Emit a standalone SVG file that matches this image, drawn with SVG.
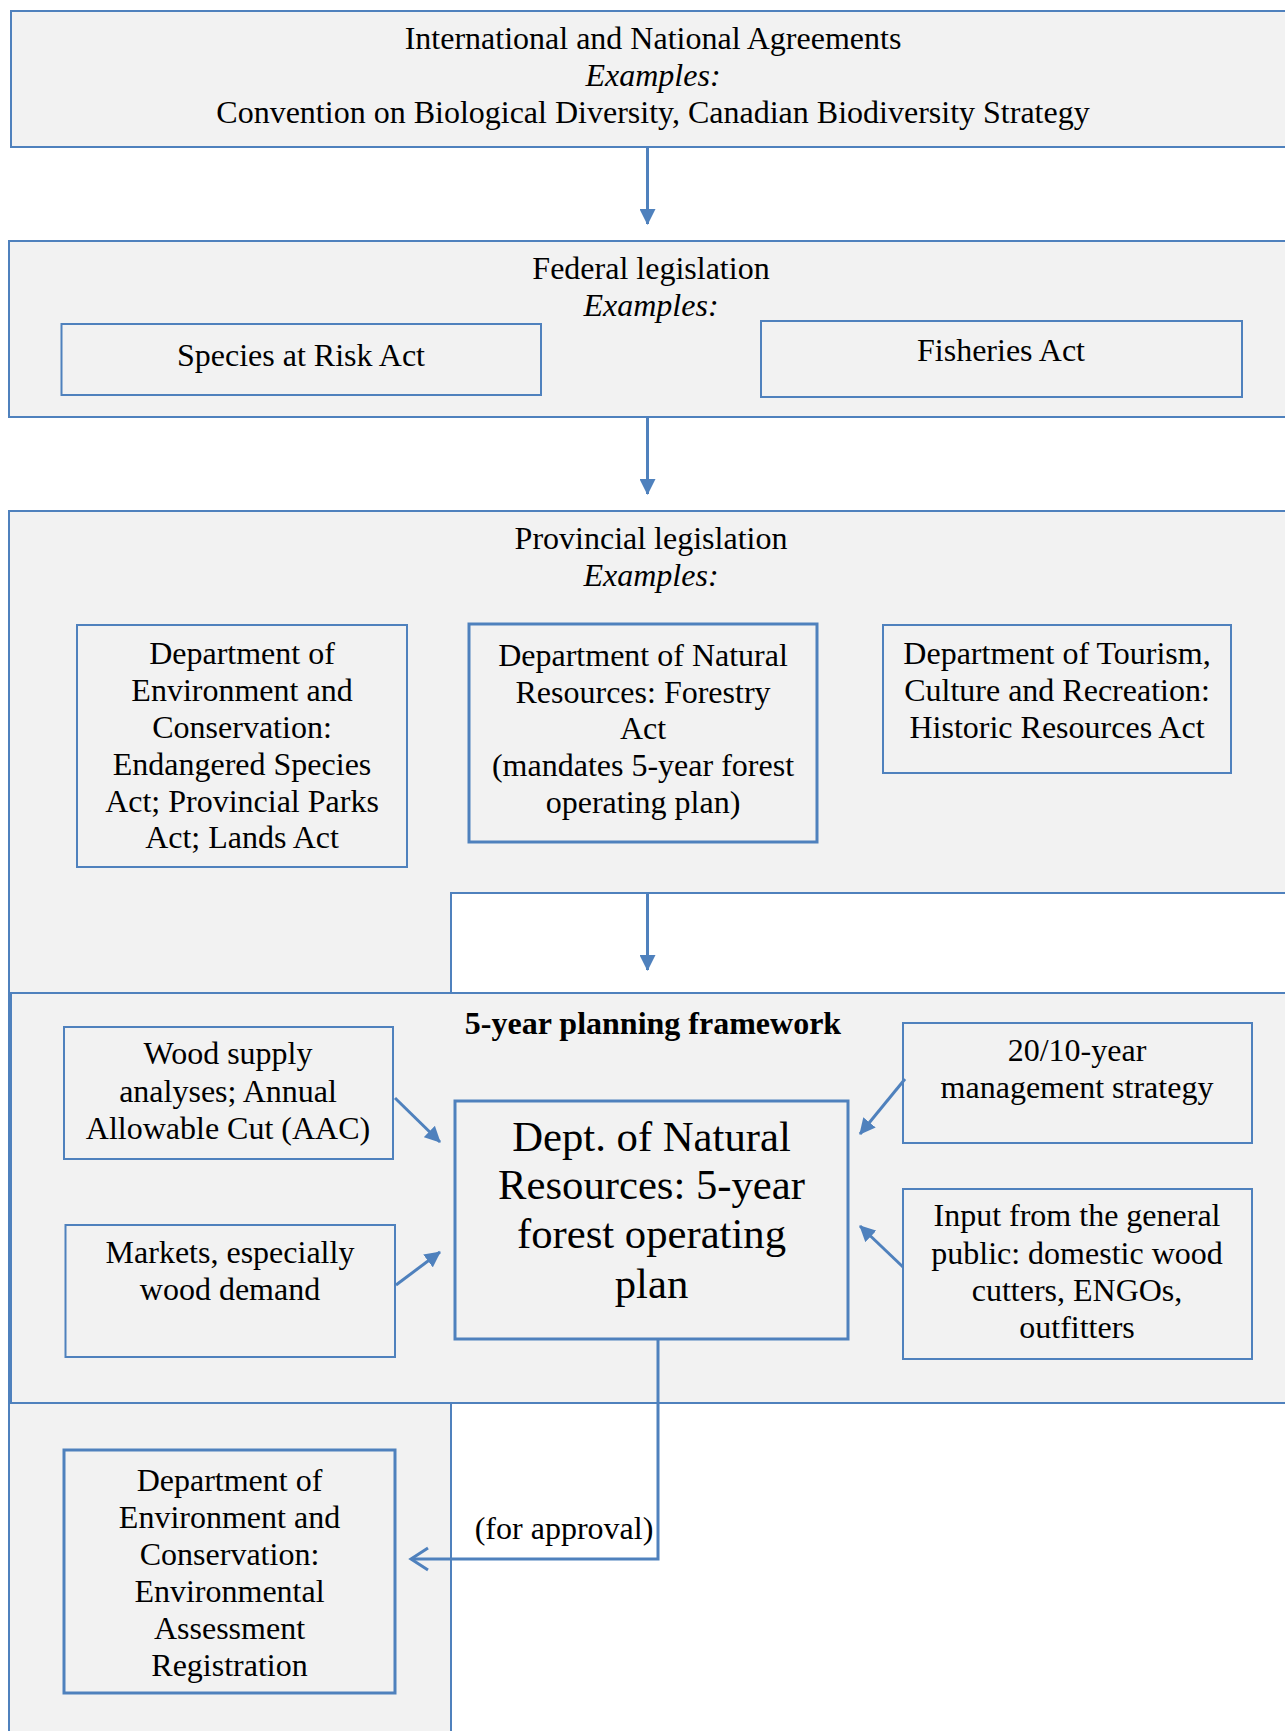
<svg xmlns="http://www.w3.org/2000/svg" width="1285" height="1731" viewBox="0 0 1285 1731">
<style>
.bg{fill:#F2F2F2;stroke:#4F81BD;stroke-width:2}
.wh{fill:#FFFFFF;stroke:#4F81BD;stroke-width:2}
.box{fill:#F2F2F2;stroke:#4F81BD;stroke-width:2}
.thick{fill:#F2F2F2;stroke:#4F81BD;stroke-width:3}
.t{font-family:"Liberation Serif","Times New Roman",serif;font-size:32px;fill:#000;text-anchor:middle}
.it{font-style:italic}
.b{font-weight:bold}
.big{font-size:42.7px}
.con{fill:none;stroke:#4F81BD;stroke-width:3}
</style>
<defs>
<marker id="ah" markerUnits="userSpaceOnUse" viewBox="0 0 16 16" refX="15" refY="8" markerWidth="16" markerHeight="16" orient="auto">
<path d="M0,0 L16,8 L0,16 Z" fill="#4F81BD"/>
</marker>
<marker id="oh" markerUnits="userSpaceOnUse" viewBox="-3 -3 24 28" refX="18" refY="11" markerWidth="24" markerHeight="28" orient="auto">
<path d="M1,0 L18,11 L1,22" fill="none" stroke="#4F81BD" stroke-width="3"/>
</marker>
</defs>

<g id="international">
<rect class="bg" x="11" y="11" width="1290" height="136"/>
<text class="t" x="653" y="49">International and National Agreements</text>
<text class="t it" x="653" y="86">Examples:</text>
<text class="t" x="653" y="123">Convention on Biological Diversity, Canadian Biodiversity Strategy</text>
</g>

<g id="federal">
<rect class="bg" x="9" y="241" width="1292" height="176"/>
<text class="t" x="651" y="279">Federal legislation</text>
<text class="t it" x="651" y="316">Examples:</text>
</g>
<g id="species-at-risk">
<rect class="box" x="61.5" y="324" width="479.5" height="71"/>
<text class="t" x="301" y="366">Species at Risk Act</text>
</g>
<g id="fisheries">
<rect class="box" x="761" y="321" width="481" height="76"/>
<text class="t" x="1001" y="361">Fisheries Act</text>
</g>

<g id="provincial">
<rect class="bg" x="9" y="511" width="1292" height="1240"/>
<text class="t" x="651" y="549">Provincial legislation</text>
<text class="t it" x="651" y="586">Examples:</text>
<rect class="wh" x="451" y="893" width="850" height="860"/>
</g>
<g id="dept-env">
<rect class="box" x="77" y="625" width="330" height="242"/>
<text class="t" x="242" y="664">Department of</text>
<text class="t" x="242" y="701">Environment and</text>
<text class="t" x="242" y="738">Conservation:</text>
<text class="t" x="242" y="775">Endangered Species</text>
<text class="t" x="242" y="812">Act; Provincial Parks</text>
<text class="t" x="242" y="848">Act; Lands Act</text>
</g>
<g id="dept-nr">
<rect class="thick" x="469" y="624" width="348" height="218"/>
<text class="t" x="643" y="666">Department of Natural</text>
<text class="t" x="643" y="703">Resources: Forestry</text>
<text class="t" x="643" y="739">Act</text>
<text class="t" x="643" y="776">(mandates 5-year forest</text>
<text class="t" x="643" y="813">operating plan)</text>
</g>
<g id="dept-tourism">
<rect class="box" x="883" y="625" width="348" height="148"/>
<text class="t" x="1057" y="664">Department of Tourism,</text>
<text class="t" x="1057" y="701">Culture and Recreation:</text>
<text class="t" x="1057" y="738">Historic Resources Act</text>
</g>

<g id="framework">
<rect class="bg" x="11" y="993" width="1290" height="410"/>
<text class="t b" x="653" y="1034">5-year planning framework</text>
</g>
<g id="wood-supply">
<rect class="box" x="64" y="1027" width="329" height="132"/>
<text class="t" x="228" y="1064">Wood supply</text>
<text class="t" x="228" y="1102">analyses; Annual</text>
<text class="t" x="228" y="1139">Allowable Cut (AAC)</text>
</g>
<g id="markets">
<rect class="box" x="65.5" y="1225" width="329.5" height="132"/>
<text class="t" x="230" y="1263">Markets, especially</text>
<text class="t" x="230" y="1300">wood demand</text>
</g>
<g id="operating-plan">
<rect class="thick" x="455" y="1101" width="393" height="238"/>
<text class="t big" x="651.5" y="1151">Dept. of Natural</text>
<text class="t big" x="651.5" y="1199">Resources: 5-year</text>
<text class="t big" x="651.5" y="1248">forest operating</text>
<text class="t big" x="651.5" y="1298">plan</text>
</g>
<g id="strategy">
<rect class="box" x="903" y="1023" width="349" height="120"/>
<text class="t" x="1077" y="1061">20/10-year</text>
<text class="t" x="1077" y="1098">management strategy</text>
</g>
<g id="public-input">
<rect class="box" x="903" y="1189" width="349" height="170"/>
<text class="t" x="1077" y="1226">Input from the general</text>
<text class="t" x="1077" y="1264">public: domestic wood</text>
<text class="t" x="1077" y="1301">cutters, ENGOs,</text>
<text class="t" x="1077" y="1338">outfitters</text>
</g>

<g id="ea-registration">
<rect class="thick" x="64" y="1450" width="331" height="243"/>
<text class="t" x="229.5" y="1491">Department of</text>
<text class="t" x="229.5" y="1528">Environment and</text>
<text class="t" x="229.5" y="1565">Conservation:</text>
<text class="t" x="229.5" y="1602">Environmental</text>
<text class="t" x="229.5" y="1639">Assessment</text>
<text class="t" x="229.5" y="1676">Registration</text>
</g>

<g id="connectors">
<line class="con" x1="647.5" y1="147" x2="647.5" y2="224" marker-end="url(#ah)"/>
<line class="con" x1="647.5" y1="417" x2="647.5" y2="494" marker-end="url(#ah)"/>
<line class="con" x1="647.5" y1="893" x2="647.5" y2="970" marker-end="url(#ah)"/>
<line class="con" x1="395" y1="1098" x2="440" y2="1142" marker-end="url(#ah)"/>
<line class="con" x1="396" y1="1285" x2="440" y2="1252" marker-end="url(#ah)"/>
<line class="con" x1="905" y1="1079" x2="860" y2="1134" marker-end="url(#ah)"/>
<line class="con" x1="903" y1="1267" x2="860" y2="1226" marker-end="url(#ah)"/>
<path class="con" d="M658,1339 V1559 H411" marker-end="url(#oh)"/>
<text class="t" x="564" y="1539">(for approval)</text>
</g>
</svg>
